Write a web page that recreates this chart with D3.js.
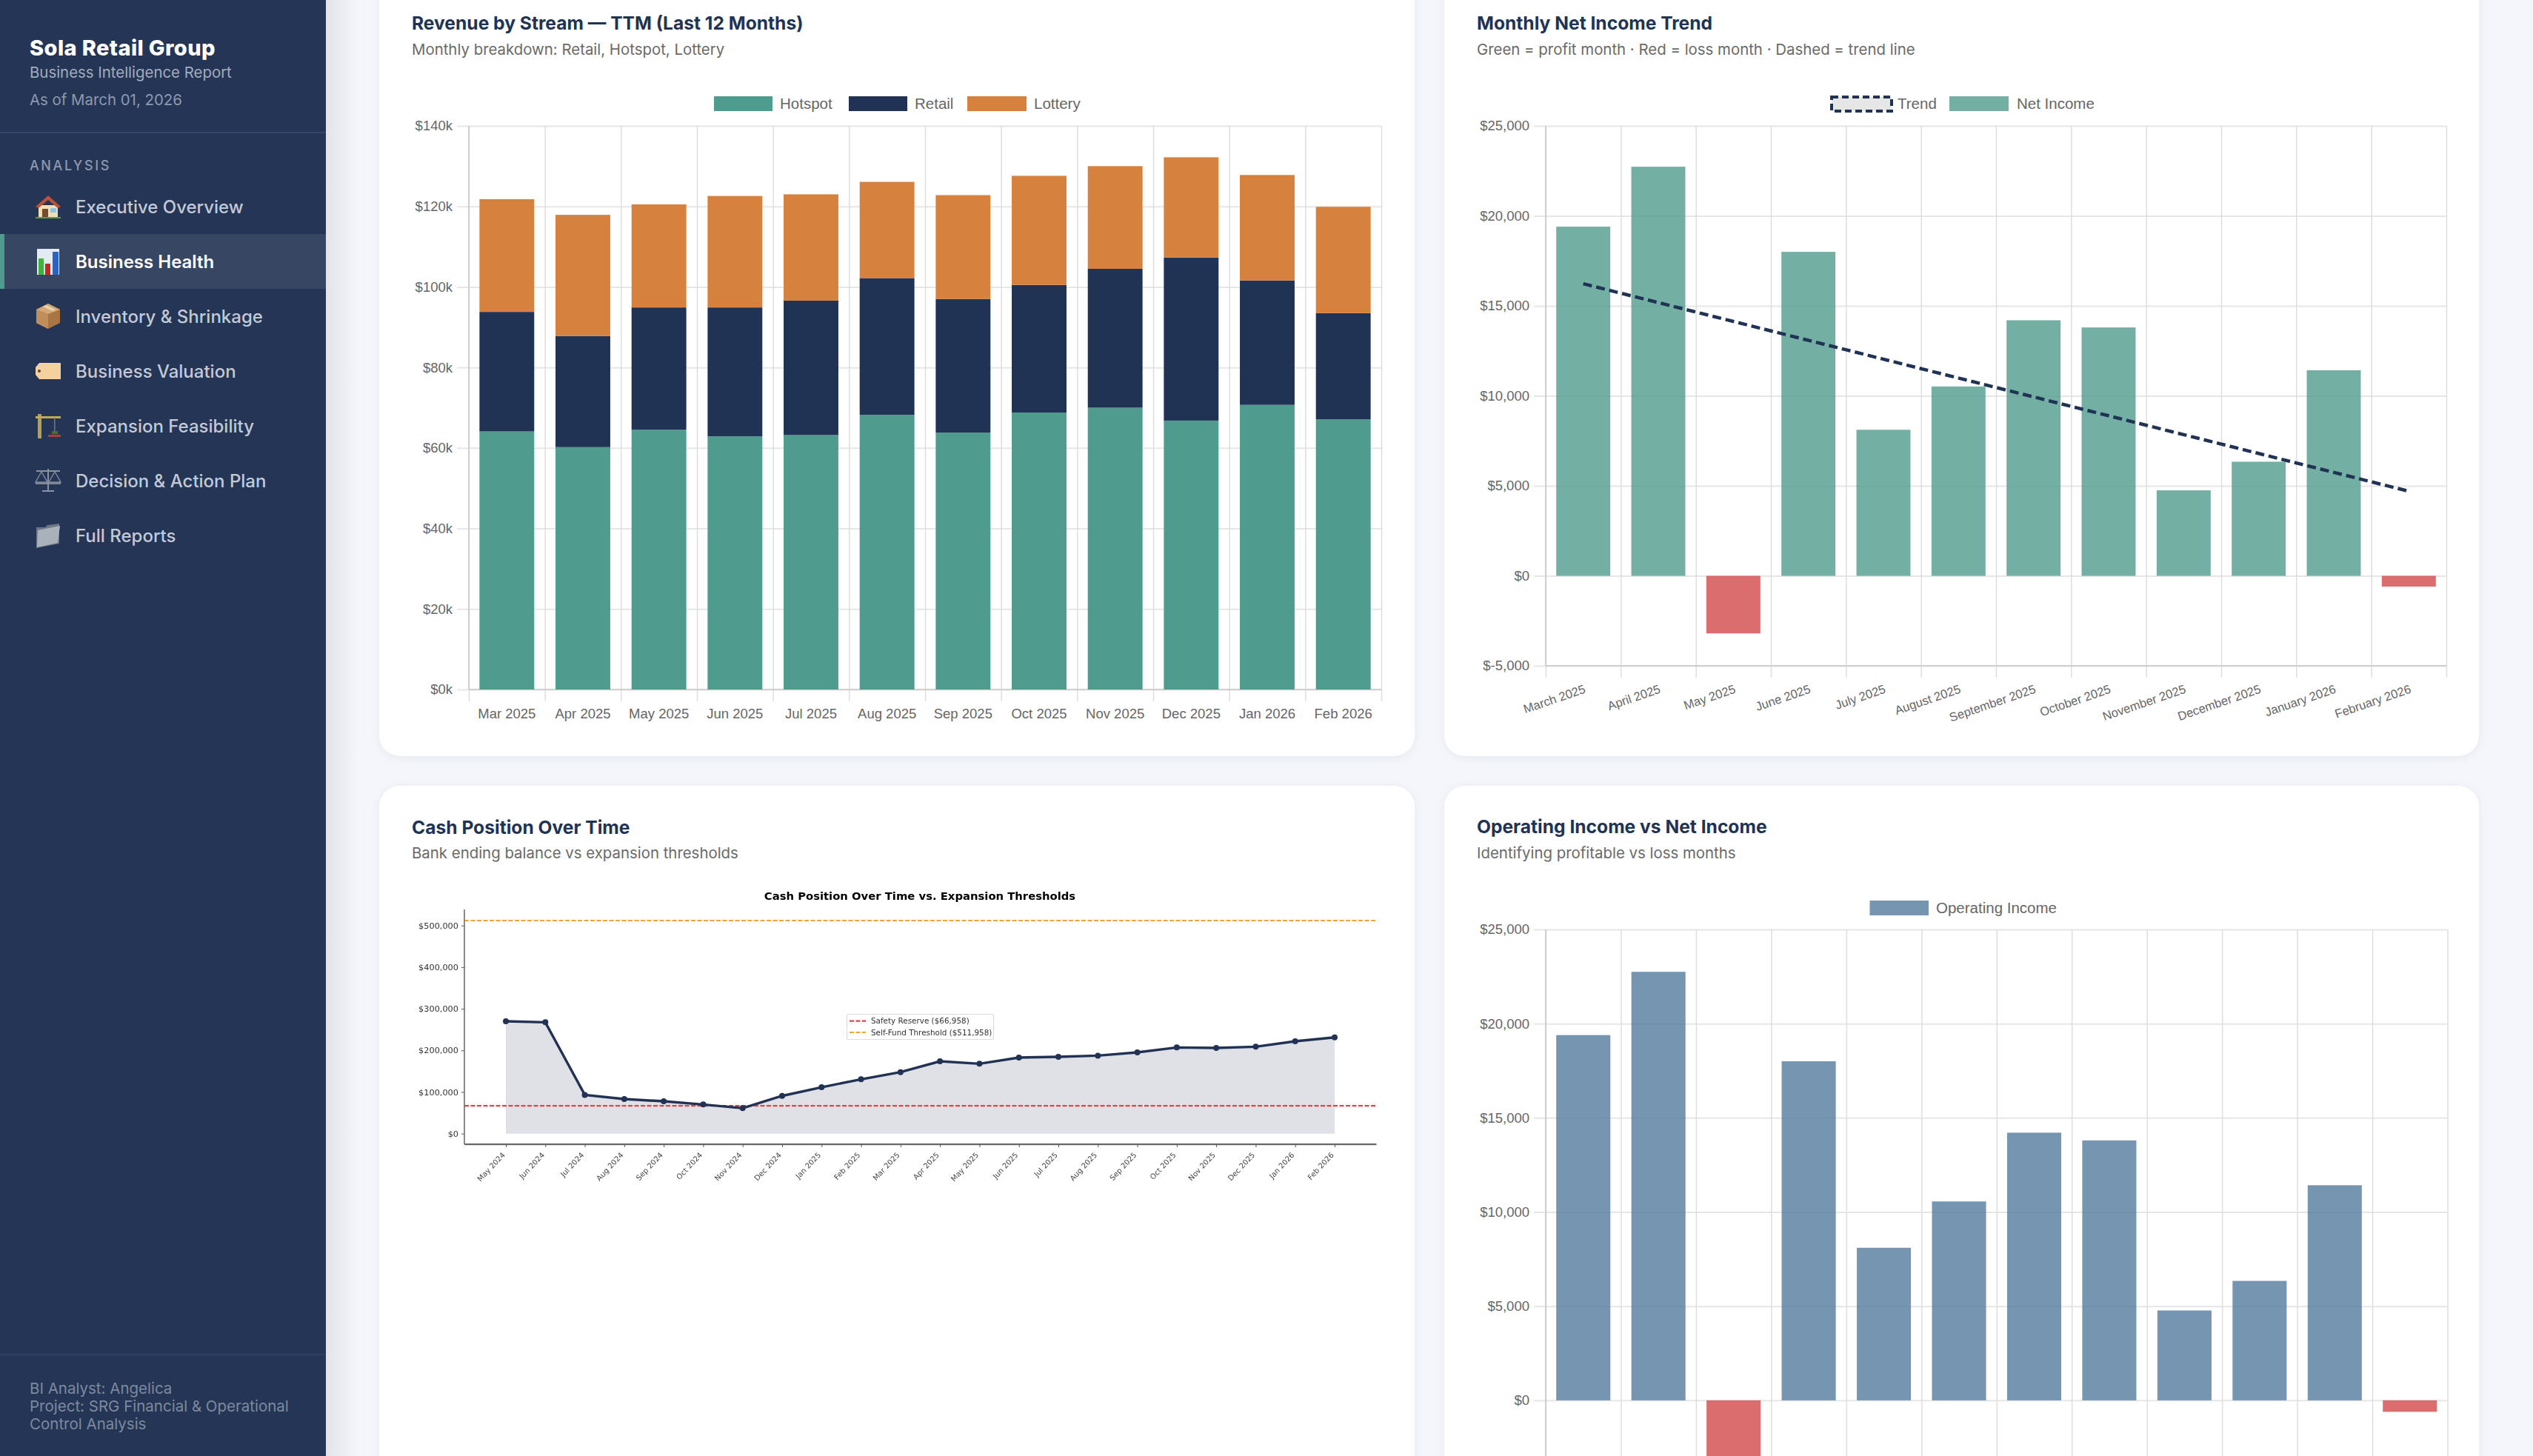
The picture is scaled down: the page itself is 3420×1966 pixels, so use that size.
<!DOCTYPE html>
<html>
<head>
<meta charset="utf-8">
<title>Business Health</title>
<script src="https://cdn.jsdelivr.net/npm/d3@7"></script>
<style>
  html, body { margin: 0; padding: 0; background: #f4f6fb; overflow: hidden; }
  svg { display: block; font-family: Inter, sans-serif; }
  .axis text { font-family: "Liberation Sans", sans-serif; fill: #666; }
  .axis .domain { display: none; }
</style>
</head>
<body>
<div id="canvas"></div>
<script>
// ---- data ----
const shortMonths = ["Mar 2025","Apr 2025","May 2025","Jun 2025","Jul 2025","Aug 2025","Sep 2025","Oct 2025","Nov 2025","Dec 2025","Jan 2026","Feb 2026"]
const longMonths = ["March 2025","April 2025","May 2025","June 2025","July 2025","August 2025","September 2025","October 2025","November 2025","December 2025","January 2026","February 2026"]
const hotspot = [64100,60200,64500,62900,63200,68200,63800,68800,70000,66800,70700,67100]
const retail = [29700,27600,30400,32000,33400,34000,33200,31700,34500,40500,30900,26400]
const lottery = [28000,30100,25600,27700,26400,23900,25800,27100,25500,24900,26200,26400]
const revenueTicks = [0,20000,40000,60000,80000,100000,120000,140000]

const netIncome = [19400,22730,-3200,18000,8115,10520,14200,13800,4750,6340,11420,-600]
const trendMonths = ["March 2025","February 2026"]
const trendValues = [16230,4700]
const operatingIncome = [19390,22750,-3200,18000,8100,10560,14210,13800,4770,6340,11420,-610]
const incomeTicks = [-5000,0,5000,10000,15000,20000,25000]
const operatingTicks = [0,5000,10000,15000,20000,25000]

const cashMonths = ["May 2024","Jun 2024","Jul 2024","Aug 2024","Sep 2024","Oct 2024","Nov 2024","Dec 2024","Jan 2025","Feb 2025","Mar 2025","Apr 2025","May 2025","Jun 2025","Jul 2025","Aug 2025","Sep 2025","Oct 2025","Nov 2025","Dec 2025","Jan 2026","Feb 2026"]
const cashBalance = [270000,267500,93100,83000,77700,70000,61100,90700,111500,130500,147700,173800,167900,182700,184500,187400,195100,207000,205800,208800,221800,231300]
const cashTicks = [0,100000,200000,300000,400000,500000]
const safetyReserve = 66958
const selfFund = 511958

const navItems = ["Executive Overview","Business Health","Inventory & Shrinkage","Business Valuation","Expansion Feasibility","Decision & Action Plan","Full Reports"]

// ---- colours ----
const teal = "#4f9c8f", navy = "#203354", orange = "#d6813d"
const tealA = "rgba(81,155,141,0.8)", redA = "rgba(211,72,74,0.8)", blueA = "rgba(82,122,156,0.8)"
const gridCol = "#e6e6e6", edgeCol = "#dedede", axisCol = "#cfcfcf"

const svg = d3.select("#canvas").append("svg").attr("width",3420).attr("height",1966)
const defs = svg.append("defs")
const shade = defs.append("linearGradient").attr("id","sideShade")
shade.append("stop").attr("offset","0%").attr("stop-color","#e2e4e9")
shade.append("stop").attr("offset","100%").attr("stop-color","#f4f6fb")
defs.append("filter").attr("id","soft").append("feGaussianBlur").attr("stdDeviation",0.55)

svg.append("rect").attr("width",3420).attr("height",1966).attr("fill","#f4f6fb")
svg.append("rect").attr("x",440).attr("width",44).attr("height",1966).attr("fill","url(#sideShade)")

function label(g,x,y,text,size,fill,weight,extra){
    const t = g.append("text").attr("x",x).attr("y",y).text(text)
        .attr("font-size",size).attr("fill",fill).attr("font-weight",weight||400)
    if(extra) t.attr("letter-spacing",extra)
    return t
}

// ---- sidebar ----
function sidebar(){
    const g = svg.append("g")
    g.append("rect").attr("width",440).attr("height",1966).attr("fill","#243556")
    label(g,40,75,"Sola Retail Group",29,"#fff",800,0.4)
    label(g,40,105,"Business Intelligence Report",20.4,"#a3acbd")
    label(g,40,142,"As of March 01, 2026",20.4,"#8f99ad")
    g.append("rect").attr("y",178).attr("width",440).attr("height",2).attr("fill","#33466a")
    label(g,40,230,"ANALYSIS",18,"#8f99ad",500,2.6)

    const rowY = d3.scalePoint().domain(navItems).range([279,723])
    g.append("rect").attr("y",rowY("Business Health")-37).attr("width",440).attr("height",74).attr("fill","#364663")
    g.append("rect").attr("y",rowY("Business Health")-37).attr("width",6).attr("height",74).attr("fill",teal)
    navItems.forEach((d,i)=>{
        const on = d=="Business Health"
        label(g,102,rowY(d)+8.5,d,24,on?"#fff":"#c3c9d6",on?600:500)
        icons[i](g.append("g").attr("transform",`translate(65,${rowY(d)})`))
    })

    g.append("rect").attr("y",1828).attr("width",440).attr("height",2).attr("fill","#2e4063")
    label(g,40,1882,"BI Analyst: Angelica",20.5,"#7d899d")
    label(g,40,1906,"Project: SRG Financial & Operational",20.5,"#7d899d")
    label(g,40,1930,"Control Analysis",20.5,"#7d899d")
}

// small pictures standing in for the emoji in the nav, drawn around 0,0
function poly(g,pts,fill){ return g.append("polygon").attr("points",pts).attr("fill",fill) }
function box(g,x,y,w,h,fill){ return g.append("rect").attr("x",x).attr("y",y).attr("width",w).attr("height",h).attr("fill",fill) }
const icons = [
    g=>{ // house
        box(g,-13,-2,26,17,"#f3deb3")
        poly(g,"-17,0 0,-15 17,0 13,2 0,-9 -13,2","#b8503a")
        box(g,-8,3,8,12,"#7a4a2c"); box(g,3,2,8,6,"#8cc3e6")
        box(g,-17,14,34,2,"#5f9a45")
    },
    g=>{ // bars
        box(g,-15,-17,30,35,"#e4eaf2")
        box(g,-13,-4,7,22,"#3fb23f"); box(g,-4,3,7,15,"#c8271f"); box(g,6,-13,8,31,"#2a63c6")
    },
    g=>{ // parcel
        poly(g,"-16,-9 0,-17 16,-9 16,9 0,17 -16,9","#a97543")
        poly(g,"-16,-9 0,-3 0,17 -16,9","#c18d59")
        poly(g,"-16,-9 0,-17 16,-9 0,-3","#d3a877")
        poly(g,"-7,-13 -3,-15 10,-9 6,-7","#e6d3b0")
    },
    g=>{ // tag
        poly(g,"-12,-11 17,-11 17,11 -12,11 -17,5 -17,-5","#f4d19e")
        g.append("circle").attr("cx",-12).attr("cy",0).attr("r",2).attr("fill","#5e4a36")
    },
    g=>{ // crane
        box(g,-14,-16,5,33,"#b9a14a"); box(g,-17,-13,34,3,"#c4ab52")
        box(g,8,-11,1.5,18,"#777"); box(g,5,7,8,4,"#4d6a3a")
        box(g,0,12,17,3,"#b0402c")
    },
    g=>{ // scales
        box(g,-1,-16,2,29,"#8b93a2"); box(g,-16,-14,32,2,"#8b93a2"); box(g,-8,13,16,2,"#8b93a2")
        poly(g,"-17,2 -9,-12 -1,2","none").attr("stroke","#7f8796").attr("stroke-width",1.5)
        poly(g,"1,2 9,-12 17,2","none").attr("stroke","#7f8796").attr("stroke-width",1.5)
        box(g,-17,2,16,3,"#7f8796"); box(g,1,2,16,3,"#7f8796")
    },
    g=>{ // folder
        poly(g,"-16,-11 -4,-11 -1,-14 15,-16 15,11 -16,17","#6f7785")
        poly(g,"-14,-7 16,-13 13,10 -15,16","#a9b1bb")
    }
]

// ---- shared card and axis helpers ----
function card(x,y,w,h,title,sub,titleY,subY,textX){
    const g = svg.append("g")
    g.append("rect").attr("x",x).attr("y",y).attr("width",w).attr("height",h).attr("rx",28)
        .attr("fill","#fff").style("filter","drop-shadow(0 2px 6px rgba(31,51,84,0.07))")
    label(g,textX,titleY,title,24.6,navy,700)
    label(g,textX,subY,sub,20.4,"#6a6a6a")
    return g
}

function legendSwatch(g,x,y,w,text,fill,tx){
    box(g,x,y,w,20,fill)
    label(g,tx,y+17,text,20.5,"#666").attr("font-family","Liberation Sans, sans-serif")
}

// y grid + ticks + labels, vertical band edges, x labels
function frame(g,y,ticks,fmt,band,left,right,top,bottom){
    const edges = d3.scaleLinear().domain([0,band.domain().length]).range([left,right])
    const n = band.domain().length

    g.append("g").attr("class","axis").attr("transform",`translate(${left},0)`)
        .call(d3.axisLeft(y).tickValues(ticks).tickSize(-(right-left)).tickFormat(""))
        .selectAll("line").attr("stroke",gridCol).attr("stroke-width",2)
    g.append("g").attr("class","axis").attr("transform",`translate(0,${bottom})`)
        .call(d3.axisBottom(edges).tickValues(d3.range(n+1)).tickSize(-(bottom-top)).tickFormat(""))
        .selectAll("line").attr("stroke",edgeCol).attr("stroke-width",1.5)

    const yAxis = g.append("g").attr("class","axis").attr("transform",`translate(${left},0)`)
        .call(d3.axisLeft(y).tickValues(ticks).tickSize(16).tickPadding(6).tickFormat(fmt))
    yAxis.selectAll("line").attr("stroke",gridCol).attr("stroke-width",2)
    yAxis.selectAll("text").attr("font-size",18.5)
    g.append("g").attr("class","axis").attr("transform",`translate(0,${bottom})`)
        .call(d3.axisBottom(edges).tickValues(d3.range(n+1)).tickSize(16).tickFormat(""))
        .selectAll("line").attr("stroke",edgeCol).attr("stroke-width",1.5)

    box(g,left-1,top,2,bottom-top,axisCol)
    box(g,left,bottom-1,right-left,2,axisCol)
}

function signedBars(g,values,months,x,y,posFill){
    g.append("g").selectAll("rect").data(values).enter().append("rect")
        .attr("x",(d,i)=>x(months[i]))
        .attr("y",d=>y(Math.max(d,0)))
        .attr("width",x.bandwidth())
        .attr("height",d=>Math.abs(y(d)-y(0)))
        .attr("fill",d=>d<0?redA:posFill)
}

const dollars = d3.format("$,.0f")
const negDollars = d=>d<0 ? "$-"+d3.format(",")(-d) : dollars(d)

// ---- revenue by stream ----
function revenueChart(){
    const g = card(512,-40,1398,1061,"Revenue by Stream — TTM (Last 12 Months)","Monthly breakdown: Retail, Hotspot, Lottery",40,74,556)
    const left=633,right=1865,top=170,bottom=931
    const x = d3.scaleBand().domain(shortMonths).range([left,right]).paddingInner(0.28).paddingOuter(0.14)
    const y = d3.scaleLinear().domain([0,140000]).range([bottom,top])

    frame(g,y,revenueTicks,d=>"$"+d/1000+"k",x,left,right,top,bottom)

    const rows = shortMonths.map((m,i)=>({month:m,hotspot:hotspot[i],retail:retail[i],lottery:lottery[i]}))
    const stack = d3.stack().keys(["hotspot","retail","lottery"])(rows)
    const fills = {hotspot:teal,retail:navy,lottery:orange}
    g.append("g").selectAll("g").data(stack).enter().append("g")
        .attr("fill",s=>fills[s.key])
        .selectAll("rect").data(s=>s).enter().append("rect")
        .attr("x",d=>x(d.data.month))
        .attr("y",d=>y(d[1]))
        .attr("width",x.bandwidth())
        .attr("height",d=>y(d[0])-y(d[1]))

    const xAxis = g.append("g").attr("class","axis").attr("transform",`translate(0,${bottom})`)
        .call(d3.axisBottom(x).tickSize(0).tickPadding(26))
    xAxis.selectAll("text").attr("font-size",18.5)

    legendSwatch(g,964,130,79,"Hotspot",teal,1053)
    legendSwatch(g,1146,130,79,"Retail",navy,1235)
    legendSwatch(g,1306,130,80,"Lottery",orange,1396)
}

// ---- net income trend ----
function netIncomeChart(){
    const g = card(1950,-40,1397,1061,"Monthly Net Income Trend","Green = profit month · Red = loss month · Dashed = trend line",40,74,1994)
    const left=2087,right=3303,top=170,bottom=899
    const x = d3.scaleBand().domain(longMonths).range([left,right]).paddingInner(0.28).paddingOuter(0.14)
    const y = d3.scaleLinear().domain([-5000,25000]).range([bottom,top])

    frame(g,y,incomeTicks,negDollars,x,left,right,top,bottom)
    signedBars(g,netIncome,longMonths,x,y,tealA)

    const line = d3.line().x((d,i)=>x(trendMonths[i])+x.bandwidth()/2).y(d=>y(d))
    g.append("path").attr("d",line(trendValues)).attr("fill","none")
        .attr("stroke",navy).attr("stroke-width",4.5).attr("stroke-dasharray","12 6")

    const xAxis = g.append("g").attr("class","axis").attr("transform",`translate(0,${bottom})`)
        .call(d3.axisBottom(x).tickSize(0))
    xAxis.selectAll("text").attr("font-size",16.5).attr("text-anchor","end")
        .attr("y",0).attr("dy",0).attr("transform","translate(4,36) rotate(-19)")

    box(g,2473,131,81,19,"#e6e6e6").attr("stroke",navy).attr("stroke-width",4).attr("stroke-dasharray","9 5")
    label(g,2562,147,"Trend",20.5,"#666").attr("font-family","Liberation Sans, sans-serif")
    legendSwatch(g,2632,130,80,"Net Income","#74afa4",2723)
}

// ---- cash position (picture-style matplotlib panel) ----
function cashChart(){
    const g = card(512,1061,1398,1001,"Cash Position Over Time","Bank ending balance vs expansion thresholds",1126,1159,556)
    const p = g.append("g").attr("filter","url(#soft)").attr("font-family","DejaVu Sans, sans-serif")
    const left=627,right=1858.5,top=1228,bottom=1545
    const x = d3.scalePoint().domain(cashMonths).range([683,1802])
    const y = d3.scaleLinear().domain([0,500000]).range([1530.7,1249.7])

    label(p,1242,1215,"Cash Position Over Time vs. Expansion Thresholds",14.8,"#000",700).attr("text-anchor","middle")

    const area = d3.area().x((d,i)=>x(cashMonths[i])).y0(y(0)).y1(d=>y(d))
    p.append("path").attr("d",area(cashBalance)).attr("fill","rgba(31,55,84,0.15)")

    const threshold = (v,col)=>p.append("line").attr("x1",left).attr("x2",right)
        .attr("y1",y(v)).attr("y2",y(v)).attr("stroke",col).attr("stroke-width",2.2).attr("stroke-dasharray","6 2.5")
    threshold(selfFund,"#f0a53c")
    threshold(safetyReserve,"#e0444f")

    const line = d3.line().x((d,i)=>x(cashMonths[i])).y(d=>y(d))
    p.append("path").attr("d",line(cashBalance)).attr("fill","none").attr("stroke",navy).attr("stroke-width",3.4)
    p.append("g").selectAll("circle").data(cashBalance).enter().append("circle")
        .attr("cx",(d,i)=>x(cashMonths[i])).attr("cy",d=>y(d)).attr("r",4).attr("fill",navy)

    const yAxis = p.append("g").attr("transform",`translate(${left},0)`)
        .call(d3.axisLeft(y).tickValues(cashTicks).tickSize(4).tickPadding(4).tickFormat(dollars))
    yAxis.select(".domain").remove()
    yAxis.selectAll("text").attr("font-size",11.3).attr("fill","#333").attr("font-family","DejaVu Sans, sans-serif")
    yAxis.selectAll("line").attr("stroke","#555")

    const xAxis = p.append("g").attr("transform",`translate(0,${bottom})`)
        .call(d3.axisBottom(x).tickSize(4))
    xAxis.select(".domain").remove()
    xAxis.selectAll("line").attr("stroke","#555")
    xAxis.selectAll("text").attr("font-size",10).attr("fill","#444").attr("text-anchor","end")
        .attr("font-family","DejaVu Sans, sans-serif")
        .attr("y",0).attr("dy",0).attr("transform","translate(-1,15) rotate(-47)")

    box(p,left-0.75,top,1.5,bottom-top,"#666")
    box(p,left,bottom-1,right-left,2.2,"#666")

    const leg = p.append("g")
    leg.append("rect").attr("x",1143.5).attr("y",1369.5).attr("width",198).attr("height",34).attr("rx",2)
        .attr("fill","#fff").attr("stroke","#dcdcdc").attr("stroke-width",1.2)
    const legRow = (yy,col,text)=>{
        leg.append("line").attr("x1",1147).attr("x2",1169).attr("y1",yy).attr("y2",yy)
            .attr("stroke",col).attr("stroke-width",2.2).attr("stroke-dasharray","6 2.5")
        label(leg,1176,yy+3.5,text,10.4,"#333")
    }
    legRow(1378.7,"#e0444f","Safety Reserve ($66,958)")
    legRow(1394,"#f0a53c","Self-Fund Threshold ($511,958)")
}

// ---- operating income ----
function operatingChart(){
    const g = card(1950,1061,1397,1001,"Operating Income vs Net Income","Identifying profitable vs loss months",1125,1159,1994)
    const left=2087,right=3304.5,top=1255,bottom=2018
    const x = d3.scaleBand().domain(longMonths).range([left,right]).paddingInner(0.28).paddingOuter(0.14)
    const y = d3.scaleLinear().domain([-5000,25000]).range([bottom,top])

    frame(g,y,operatingTicks,negDollars,x,left,right,top,bottom)
    signedBars(g,operatingIncome,longMonths,x,y,blueA)

    legendSwatch(g,2524.5,1216,79.5,"Operating Income","#7595b0",2614)
}

sidebar()
revenueChart()
netIncomeChart()
cashChart()
operatingChart()
</script>
</body>
</html>
